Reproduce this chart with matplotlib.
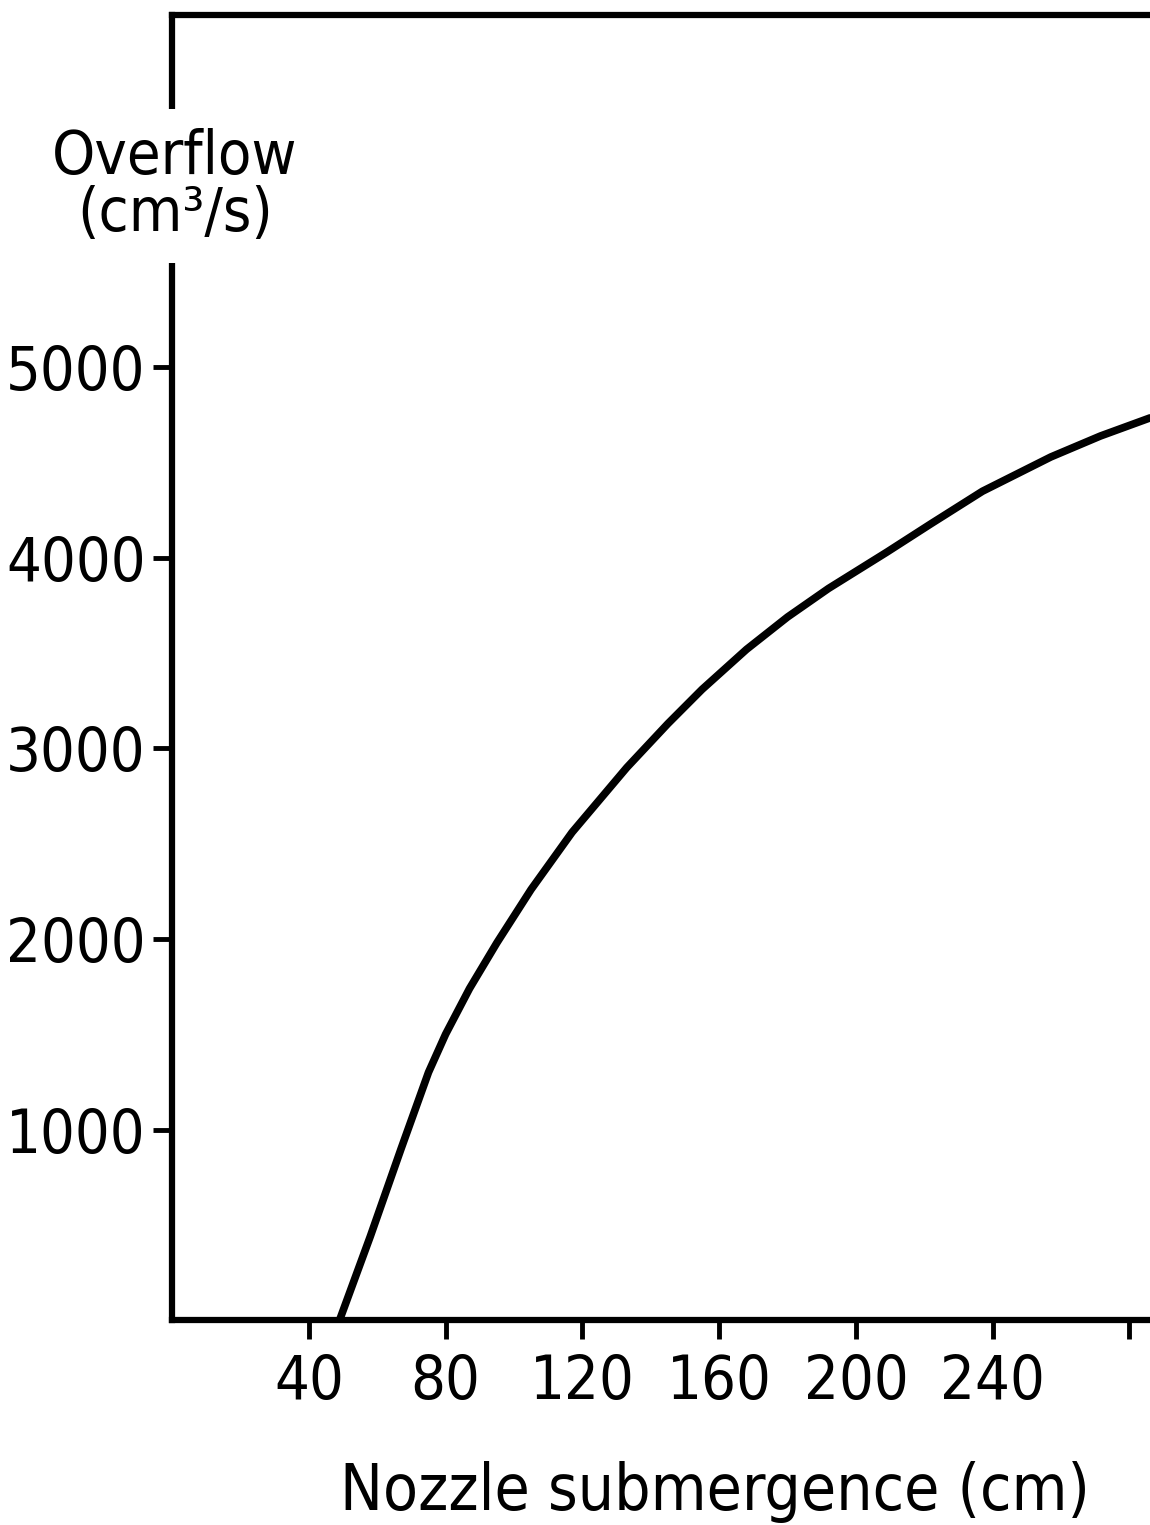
import matplotlib
matplotlib.use("Agg")
import matplotlib.pyplot as plt

# values
submergence = [49, 58, 67, 75, 80, 87, 95, 105, 117, 133, 145, 155,
               168, 180, 192, 209, 222, 237, 257, 271.5, 286]
overflow = [0, 440, 900, 1300, 1500, 1740, 1980, 2260, 2560, 2900, 3130, 3310,
            3520, 3690, 3840, 4030, 4180, 4350, 4530, 4640, 4735]

x_ticks = [40, 80, 120, 160, 200, 240, 280]
x_tick_labels = ["40", "80", "120", "160", "200", "240", ""]
y_ticks = [1000, 2000, 3000, 4000, 5000]

plt.rcParams['font.family'] = ['DejaVu Sans']
plt.rcParams['font.stretch'] = 'condensed'

fig = plt.figure(figsize=(11.5, 15.25), dpi=100)
ax = fig.add_axes([0.1496, 0.1344, 0.8504, 0.8558])

ax.plot(submergence, overflow, color='black', linewidth=5.5,
        solid_capstyle='round', solid_joinstyle='round')

ax.set_xlim(0, 286)
ax.set_ylim(0, 6850)

ax.spines['right'].set_visible(False)
for side in ['left', 'bottom', 'top']:
    ax.spines[side].set_linewidth(4.5)

ax.set_xticks(x_ticks)
ax.set_xticklabels(x_tick_labels)
ax.set_yticks(y_ticks)
ax.tick_params(axis='both', direction='out', length=14, width=3.5,
               labelsize=44, pad=5)
ax.tick_params(axis='x', pad=10)

ax.set_xlabel("Nozzle submergence (cm)", fontsize=46)
ax.xaxis.set_label_coords(0.555, -0.108)

# y label sits in a break of the left axis line
fig.text(0.152, 0.878, "Overflow\n(cm³/s)", fontsize=44, ha='center', va='center',
         linespacing=0.95,
         bbox=dict(facecolor='white', edgecolor='none', pad=14))

fig.savefig("out.png", dpi=100)
